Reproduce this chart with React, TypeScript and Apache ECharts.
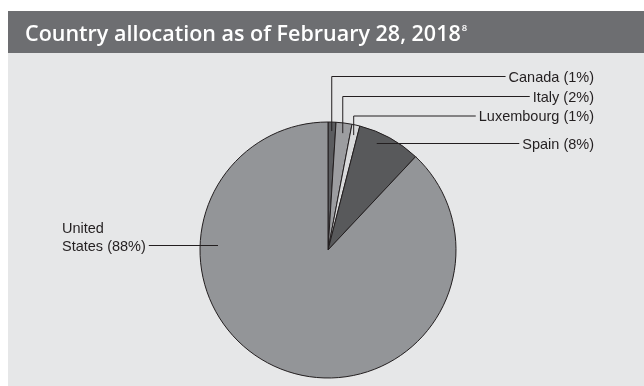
import React, { useEffect, useRef } from 'react';
import * as echarts from 'echarts';

// ---- data ----
const categories = ['Canada', 'Italy', 'Luxembourg', 'Spain', 'United States'];
const displayNames = ['Canada', 'Italy', 'Luxembourg', 'Spain', 'United\nStates'];
const values = [1, 2, 1, 8, 88];
const sliceColors = ['#5b5c5f', '#9c9da0', '#d9dadb', '#58595b', '#939598'];

const TITLE = 'Country allocation as of February 28, 2018';
const TITLE_NOTE = '8';

// ---- layout ----
const CX = 328;
const CY = 250;
const R = 128;
const INK = '#231f20';
const FONT = '"Liberation Sans", Arial, sans-serif';

type Spot = { x: number; y: number; align: 'left' | 'right'; kind: 'elbow' | 'flat'; k: number; lineY?: number };
const LABEL_SPOTS: Spot[] = [
  { x: 594, y: 76.5, align: 'right', kind: 'elbow', k: 0.93 },
  { x: 594, y: 96.5, align: 'right', kind: 'elbow', k: 0.92 },
  { x: 594, y: 116, align: 'right', kind: 'elbow', k: 0.92 },
  { x: 594, y: 143.5, align: 'right', kind: 'flat', k: 0.915 },
  { x: 62, y: 237, align: 'left', kind: 'flat', k: 0.86, lineY: 245.5 },
];

export default function App() {
  const ref = useRef<HTMLDivElement>(null);
  useEffect(() => {
    if (!ref.current) return;
    const chart = echarts.init(ref.current, undefined, { renderer: 'svg' });
    const total = values.reduce((a, b) => a + b, 0);
    const pieData = categories.map((name, i) => ({ name, value: values[i], itemStyle: { color: sliceColors[i] } }));
    const labelData = categories.map((name, i) => ({ name, value: values[i] }));
    const option: any = {
      animation: false,
      graphic: [
        { type: 'rect', z: -10, silent: true, shape: { x: 8, y: 11, width: 636, height: 42 }, style: { fill: '#6d6e71' } },
        { type: 'rect', z: -10, silent: true, shape: { x: 8, y: 53, width: 636, height: 333 }, style: { fill: '#e6e7e8' } },
      ],
      title: {
        text: `{t|${TITLE}}{s|${TITLE_NOTE}}`,
        left: 25,
        top: 19,
        padding: 0,
        textStyle: {
          rich: {
            t: { fontFamily: '"Open Sans", sans-serif', fontWeight: 600, fontSize: 21.5, color: '#ffffff', lineHeight: 26 },
            s: { fontFamily: '"Open Sans", sans-serif', fontWeight: 600, fontSize: 9.5, color: '#ffffff', verticalAlign: 'top', padding: [3, 0, 0, 1] },
          },
        },
      },
      series: [
        {
          type: 'pie',
          silent: true,
          z: 2,
          center: [CX, CY],
          radius: R,
          startAngle: 90,
          clockwise: true,
          avoidLabelOverlap: false,
          itemStyle: { borderColor: INK, borderWidth: 1 },
          emphasis: { disabled: true },
          label: { show: false },
          labelLine: { show: false },
          data: pieData,
        },
        {
          type: 'pie',
          silent: true,
          z: 4,
          center: [CX, CY],
          radius: R,
          startAngle: 90,
          clockwise: true,
          avoidLabelOverlap: false,
          itemStyle: { color: 'rgba(0,0,0,0)', borderWidth: 0 },
          emphasis: { disabled: true },
          label: {
            show: true,
            position: 'outside',
            fontFamily: FONT,
            fontSize: 14.5,
            lineHeight: 18,
            color: INK,
            formatter: (p: any) => `${displayNames[p.dataIndex]} (${p.value}%)`,
          },
          labelLine: { show: true, length: 10, length2: 10, smooth: false, lineStyle: { color: INK, width: 1 } },
          labelLayout: (p: any) => {
            const s = LABEL_SPOTS[p.dataIndex];
            const w = p.labelRect.width;
            const lineY = s.lineY != null ? s.lineY : s.y;
            const endX = s.align === 'right' ? s.x - w - 3 : s.x + w + 3;
            let pts: number[][];
            if (s.kind === 'elbow') {
              let dx: number, dy: number;
              if (p.labelLinePoints && p.labelLinePoints[0]) {
                dx = p.labelLinePoints[0][0] - CX;
                dy = p.labelLinePoints[0][1] - CY;
              } else {
                let cum = 0;
                for (let i = 0; i < p.dataIndex; i++) cum += values[i];
                const a = ((cum + values[p.dataIndex] / 2) / total) * Math.PI * 2;
                dx = Math.sin(a);
                dy = -Math.cos(a);
              }
              const len = Math.hypot(dx, dy) || 1;
              const sx = CX + (dx / len) * R * s.k;
              const sy = CY + (dy / len) * R * s.k;
              pts = [[sx, sy], [sx, lineY], [endX, lineY]];
            } else {
              const dy = lineY - CY;
              const rr = R * s.k;
              const dxm = Math.sqrt(Math.max(0, rr * rr - dy * dy));
              const sign = s.align === 'right' ? 1 : -1;
              pts = [[CX + sign * dxm, lineY], [endX, lineY]];
            }
            return { x: s.x, y: s.y, align: s.align, verticalAlign: 'middle', labelLinePoints: pts };
          },
          data: labelData,
        },
      ],
    };
    chart.setOption(option);
    return () => chart.dispose();
  }, []);
  return <div ref={ref} style={{ position: 'fixed', left: 0, top: 0, width: 644, height: 386 }} />;
}
